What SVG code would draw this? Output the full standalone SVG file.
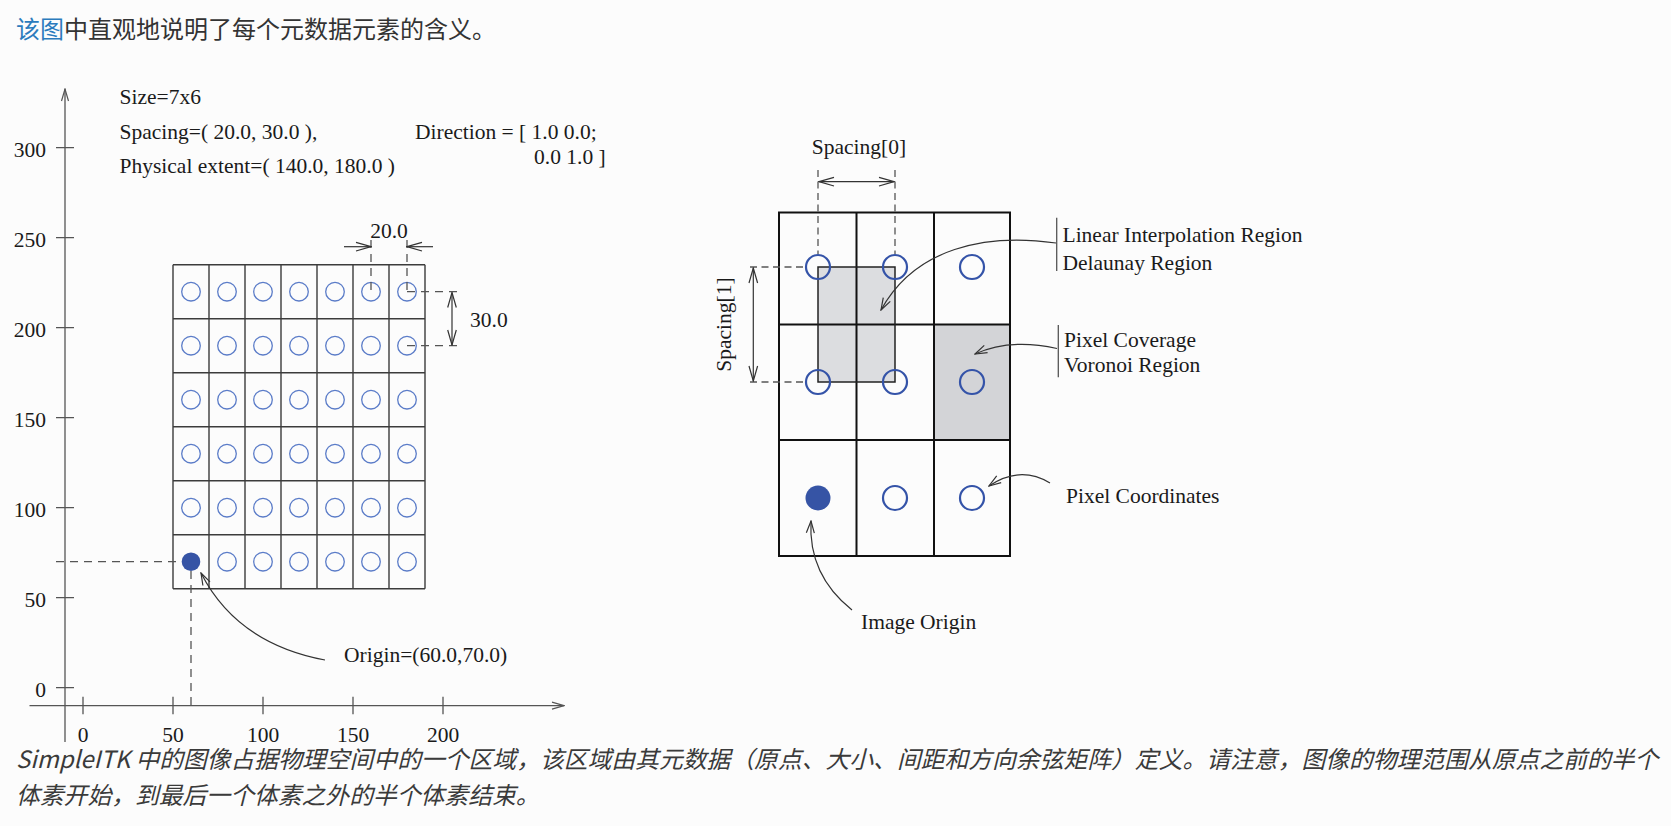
<svg xmlns="http://www.w3.org/2000/svg" width="1671" height="826" viewBox="0 0 1671 826">
<style>
.t{font-family:"Liberation Serif","Times New Roman",serif;font-size:21.5px;fill:#1a1a1a}
.cjk{font-family:"Noto Sans CJK SC","Noto Sans",sans-serif;font-size:24px;fill:#333}
.cap{font-style:italic;fill:#3a3a3a;font-size:23.8px}
.ax{stroke:#555;stroke-width:1.3;fill:none}
.lg{stroke:#3c3c3c;stroke-width:1.4;fill:none}
.lc{stroke:#5b7cc8;stroke-width:1.3;fill:none}
.dash{stroke:#555;stroke-width:1.3;stroke-dasharray:8 6;fill:none}
.rdash{stroke:#555;stroke-width:1.3;stroke-dasharray:7 4.5;fill:none}
.rg{stroke:#111;stroke-width:2;fill:none}
.rc{stroke:#3453a8;stroke-width:2.2;fill:none}
.con{stroke:#333;stroke-width:1.2;fill:none}
</style>
<defs>
<marker id="arr" viewBox="-16 -6 17 12" refX="0" refY="0" markerWidth="17" markerHeight="12" markerUnits="userSpaceOnUse" orient="auto-start-reverse">
<path d="M-15,-4.3 L0,0 L-15,4.3" fill="none" stroke="#333" stroke-width="1.2"/>
</marker>
<marker id="arrs" viewBox="-13 -6 14 12" refX="0" refY="0" markerWidth="14" markerHeight="12" markerUnits="userSpaceOnUse" orient="auto-start-reverse">
<path d="M-12,-4 L0,0 L-12,4" fill="none" stroke="#333" stroke-width="1.2"/>
</marker>
<marker id="arra" viewBox="-13 -6 14 12" refX="0" refY="0" markerWidth="14" markerHeight="12" markerUnits="userSpaceOnUse" orient="auto">
<path d="M-12,-3.5 L0,0 L-12,3.5" fill="none" stroke="#555" stroke-width="1.2"/>
</marker>
</defs>
<rect x="0" y="0" width="1671" height="826" fill="#fcfcfc"/>

<g id="title">
<text class="cjk" x="16" y="37.5"><tspan fill="#2b7bbd">该图</tspan>中直观地说明了每个元数据元素的含义。</text>
</g>

<g id="left-axes">
<path class="ax" d="M65,742 V89" marker-end="url(#arra)"/>
<path class="ax" d="M29.5,705.7 H564" marker-end="url(#arra)"/>
<path class="ax" d="M56,147.7 H74 M56,237.7 H74 M56,327.7 H74 M56,417.7 H74 M56,507.7 H74 M56,597.7 H74 M56,687.7 H74"/>
<path class="ax" d="M83,696.7 V714.3 M173,696.7 V714.3 M263,696.7 V714.3 M353,696.7 V714.3 M443,696.7 V714.3"/>
<g class="t" text-anchor="end">
<text x="46" y="157.2">300</text>
<text x="46" y="247.2">250</text>
<text x="46" y="337.2">200</text>
<text x="46" y="427.2">150</text>
<text x="46" y="517.2">100</text>
<text x="46" y="607.2">50</text>
<text x="46" y="697.2">0</text>
</g>
<g class="t" text-anchor="middle">
<text x="83" y="742">0</text>
<text x="173" y="742">50</text>
<text x="263" y="742">100</text>
<text x="353" y="742">150</text>
<text x="443" y="742">200</text>
</g>
</g>

<g id="metadata">
<text class="t" x="119.5" y="103.5">Size=7x6</text>
<text class="t" x="119.5" y="138.5">Spacing=( 20.0, 30.0 ),</text>
<text class="t" x="119.5" y="173.3">Physical extent=( 140.0, 180.0 )</text>
<text class="t" x="415" y="138.5">Direction = [ 1.0 0.0;</text>
<text class="t" x="534" y="164">0.0 1.0 ]</text>
</g>

<g id="left-grid">
<path class="lg" d="M173,264.7 V588.7 M209,264.7 V588.7 M245,264.7 V588.7 M281,264.7 V588.7 M317,264.7 V588.7 M353,264.7 V588.7 M389,264.7 V588.7 M425,264.7 V588.7 M173,264.7 H425 M173,318.7 H425 M173,372.7 H425 M173,426.7 H425 M173,480.7 H425 M173,534.7 H425 M173,588.7 H425"/>
<g class="lc">
<circle cx="191" cy="291.7" r="9.3"/><circle cx="227" cy="291.7" r="9.3"/><circle cx="263" cy="291.7" r="9.3"/><circle cx="299" cy="291.7" r="9.3"/><circle cx="335" cy="291.7" r="9.3"/><circle cx="371" cy="291.7" r="9.3"/><circle cx="407" cy="291.7" r="9.3"/>
<circle cx="191" cy="345.7" r="9.3"/><circle cx="227" cy="345.7" r="9.3"/><circle cx="263" cy="345.7" r="9.3"/><circle cx="299" cy="345.7" r="9.3"/><circle cx="335" cy="345.7" r="9.3"/><circle cx="371" cy="345.7" r="9.3"/><circle cx="407" cy="345.7" r="9.3"/>
<circle cx="191" cy="399.7" r="9.3"/><circle cx="227" cy="399.7" r="9.3"/><circle cx="263" cy="399.7" r="9.3"/><circle cx="299" cy="399.7" r="9.3"/><circle cx="335" cy="399.7" r="9.3"/><circle cx="371" cy="399.7" r="9.3"/><circle cx="407" cy="399.7" r="9.3"/>
<circle cx="191" cy="453.7" r="9.3"/><circle cx="227" cy="453.7" r="9.3"/><circle cx="263" cy="453.7" r="9.3"/><circle cx="299" cy="453.7" r="9.3"/><circle cx="335" cy="453.7" r="9.3"/><circle cx="371" cy="453.7" r="9.3"/><circle cx="407" cy="453.7" r="9.3"/>
<circle cx="191" cy="507.7" r="9.3"/><circle cx="227" cy="507.7" r="9.3"/><circle cx="263" cy="507.7" r="9.3"/><circle cx="299" cy="507.7" r="9.3"/><circle cx="335" cy="507.7" r="9.3"/><circle cx="371" cy="507.7" r="9.3"/><circle cx="407" cy="507.7" r="9.3"/>
<circle cx="227" cy="561.7" r="9.3"/><circle cx="263" cy="561.7" r="9.3"/><circle cx="299" cy="561.7" r="9.3"/><circle cx="335" cy="561.7" r="9.3"/><circle cx="371" cy="561.7" r="9.3"/><circle cx="407" cy="561.7" r="9.3"/>
</g>
<circle id="left-origin-pixel" cx="191" cy="561.7" r="9.3" fill="#3654a5"/>
</g>

<g id="left-labels">
<text class="t" x="389" y="238" text-anchor="middle">20.0</text>
<text class="t" x="470" y="327">30.0</text>
<text class="t" x="344" y="662">Origin=(60.0,70.0)</text>
</g>

<g id="right-grid">
<rect x="934" y="324.5" width="76" height="115.5" fill="#d3d4d7"/>
<rect x="818" y="267" width="77" height="115" fill="#dcdde0"/>
<path class="rg" d="M779,212.5 H1010 V556 H779 Z M856.5,212.5 V556 M934,212.5 V556 M779,324.5 H1010 M779,440 H1010"/>
<rect x="818" y="267" width="77" height="115" fill="none" stroke="#222" stroke-width="1.5"/>
<g class="rc">
<circle cx="818" cy="267" r="12"/><circle cx="895" cy="267" r="12"/><circle cx="972" cy="267" r="12"/>
<circle cx="818" cy="382" r="12"/><circle cx="895" cy="382" r="12"/><circle cx="972" cy="382" r="12"/>
<circle cx="895" cy="498" r="12"/><circle cx="972" cy="498" r="12"/>
</g>
<circle id="right-origin-pixel" cx="818" cy="498" r="12.5" fill="#3654a5"/>
</g>

<g id="label-spacing0"><text class="t" x="859" y="154" text-anchor="middle">Spacing[0]</text></g>
<g id="label-spacing1"><text class="t" transform="translate(731,324.5) rotate(-90)" text-anchor="middle">Spacing[1]</text></g>
<g id="label-linear">
<path d="M1056.7,217.7 V271" stroke="#555" stroke-width="1.3"/>
<text class="t" x="1062.5" y="241.5">Linear Interpolation Region</text>
<text class="t" x="1062.5" y="270">Delaunay Region</text>
</g>
<g id="label-coverage">
<path d="M1058.3,325 V377.3" stroke="#555" stroke-width="1.3"/>
<text class="t" x="1064" y="346.5">Pixel Coverage</text>
<text class="t" x="1064" y="372">Voronoi Region</text>
</g>
<g id="label-coords"><text class="t" x="1066" y="502.7">Pixel Coordinates</text></g>
<g id="label-image-origin"><text class="t" x="861" y="629">Image Origin</text></g>

<g id="connectors">
<path class="dash" d="M56,561.7 H182"/>
<path class="dash" d="M191,571 V706"/>
<path class="dash" d="M371,240 V291.7 M407,240 V291.7"/>
<path class="dash" d="M407,291.7 H457 M407,345.7 H457"/>
<path class="con" d="M344,246.7 H371" marker-end="url(#arr)"/>
<path class="con" d="M433,246.7 H407" marker-end="url(#arr)"/>
<path class="con" d="M452,292.5 V345" marker-start="url(#arr)" marker-end="url(#arr)"/>
<path class="con" d="M325,660 Q237,643.5 201,573" marker-end="url(#arrs)"/>
<path class="rdash" d="M818,170 V254 M895,170 V254"/>
<path class="rdash" d="M750,267 H806 M750,382 H806"/>
<path class="con" d="M819,181.7 H894" marker-start="url(#arr)" marker-end="url(#arr)"/>
<path class="con" d="M753.3,268 V381" marker-start="url(#arr)" marker-end="url(#arr)"/>
<path class="con" d="M1056,243 C985,233 915,248 881,310" marker-end="url(#arrs)"/>
<path class="con" d="M1057,348.5 Q1010,338 975,354" marker-end="url(#arrs)"/>
<path class="con" d="M1050,483 Q1020,465 989,486" marker-end="url(#arrs)"/>
<path class="con" d="M852,610 Q808,575 811,521" marker-end="url(#arrs)"/>
</g>

<g id="caption">
<text class="cjk cap" x="16" y="768">SimpleITK 中的图像占据物理空间中的一个区域，该区域由其元数据（原点、大小、间距和方向余弦矩阵）定义。请注意，图像的物理范围从原点之前的半个</text>
<text class="cjk cap" x="16" y="804">体素开始，到最后一个体素之外的半个体素结束。</text>
</g>
</svg>
